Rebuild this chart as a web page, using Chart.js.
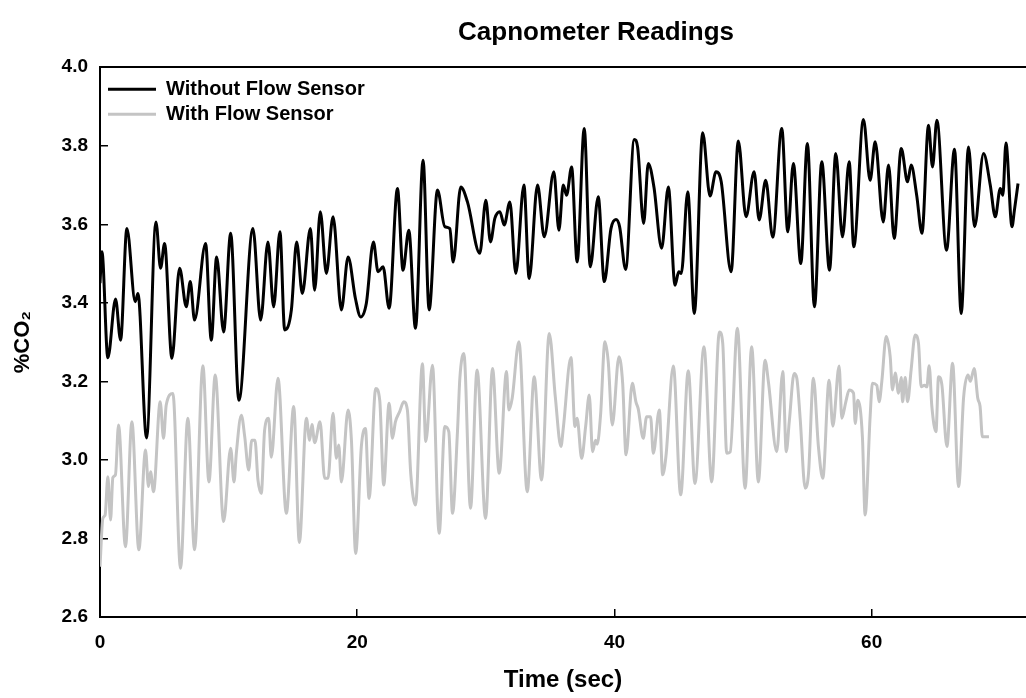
<!DOCTYPE html>
<html>
<head>
<meta charset="utf-8">
<title>Capnometer Readings</title>
<script src="https://cdn.jsdelivr.net/npm/chart.js@4.4.1/dist/chart.umd.min.js"></script>
<style>
  body { margin: 0; background: #fff; }
</style>
</head>
<body>
<canvas id="chart_dest" width="1026" height="698"></canvas>
<script>
// dataset - without flow sensor (black)
var timeWithout = [
  0.0, 0.15, 0.61, 1.21, 1.6, 2.09, 2.74, 2.95, 3.62, 4.35, 4.71, 5.02, 5.59, 6.19, 6.71, 7.02, 7.35, 8.21, 8.65, 9.07,
  9.61, 10.16, 10.8, 11.89, 12.49, 13.06, 13.5, 13.99, 14.36, 14.88, 15.29, 15.73, 16.36, 16.69, 17.13, 17.6, 18.12, 18.77, 19.29, 19.86,
  20.27, 20.71, 21.26, 21.62, 22.01, 22.48, 23.13, 23.56, 24.01, 24.53, 25.12, 25.59, 26.24, 26.81, 27.2, 27.46, 28.05, 28.57, 29.53, 30.0,
  30.36, 30.7, 31.09, 31.43, 31.87, 32.33, 32.96, 33.37, 34.02, 34.54, 35.29, 35.68, 36.02, 36.28, 36.67, 37.1, 37.65, 38.12, 38.74, 39.21,
  39.73, 40.12, 40.4, 40.87, 41.54, 41.8, 42.27, 42.63, 43.07, 43.67, 44.19, 44.71, 45.0, 45.2, 45.7, 46.21, 46.86, 47.43, 47.9, 48.3,
  49.07, 49.63, 50.23, 50.86, 51.25, 51.76, 52.31, 53.01, 53.48, 53.91, 54.49, 55.0, 55.55, 56.12, 56.72, 57.21, 57.73, 58.25, 58.61, 59.36,
  59.88, 60.27, 60.9, 61.31, 61.75, 62.3, 62.79, 63.07, 63.5, 63.91, 64.42, 64.73, 65.07, 65.82, 66.44, 66.96, 67.53, 68.0, 68.7, 69.22,
  69.61, 70.0, 70.2, 70.44, 70.91, 71.1, 71.38
];
var co2Without = [
  3.45, 3.53, 3.26, 3.41, 3.305, 3.589, 3.403, 3.424, 3.056, 3.606, 3.488, 3.551, 3.259, 3.488, 3.39, 3.454, 3.356, 3.551, 3.305, 3.517,
  3.326, 3.577, 3.152, 3.589, 3.356, 3.555, 3.39, 3.581, 3.331, 3.382, 3.555, 3.424, 3.589, 3.432, 3.632, 3.475, 3.619, 3.382, 3.517, 3.411,
  3.364, 3.399, 3.555, 3.479, 3.492, 3.386, 3.691, 3.483, 3.585, 3.335, 3.763, 3.382, 3.687, 3.594, 3.589, 3.504, 3.695, 3.657, 3.526, 3.661,
  3.555, 3.615, 3.632, 3.598, 3.657, 3.475, 3.7, 3.462, 3.7, 3.568, 3.734, 3.585, 3.7, 3.674, 3.746, 3.504, 3.844, 3.492, 3.67, 3.454,
  3.589, 3.612, 3.594, 3.485, 3.816, 3.797, 3.602, 3.755, 3.695, 3.539, 3.695, 3.445, 3.479, 3.475, 3.683, 3.373, 3.833, 3.672, 3.734, 3.709,
  3.479, 3.812, 3.619, 3.734, 3.611, 3.712, 3.567, 3.844, 3.581, 3.755, 3.5, 3.806, 3.39, 3.759, 3.483, 3.78, 3.568, 3.759, 3.543, 3.867,
  3.712, 3.81, 3.606, 3.751, 3.564, 3.793, 3.708, 3.751, 3.674, 3.577, 3.852, 3.746, 3.865, 3.534, 3.791, 3.373, 3.797, 3.594, 3.78, 3.7,
  3.619, 3.691, 3.674, 3.807, 3.594, 3.636, 3.704
];

// dataset - with flow sensor (grey)
var timeWith = [
  0.0, 0.22, 0.4, 0.61, 0.82, 1.0, 1.2, 1.44, 1.98, 2.48, 3.02, 3.54, 3.77, 3.93, 4.16, 4.68, 4.94, 5.15, 5.67, 6.26,
  6.83, 7.35, 8.0, 8.47, 8.96, 9.61, 10.16, 10.42, 10.6, 10.99, 11.25, 11.56, 11.8, 12.05, 12.28, 12.54, 12.8, 13.11, 13.32, 13.84,
  14.49, 15.06, 15.5, 16.05, 16.3, 16.48, 16.69, 17.11, 17.47, 17.73, 18.12, 18.38, 18.56, 18.77, 19.29, 19.55, 19.88, 20.32, 20.64, 20.92,
  21.44, 21.75, 22.06, 22.48, 22.74, 22.97, 23.3, 23.62, 23.9, 24.16, 24.53, 25.07, 25.33, 25.85, 26.37, 26.81, 27.12, 27.41, 27.8, 27.98,
  28.29, 28.81, 29.32, 29.98, 30.52, 31.04, 31.61, 31.79, 32.05, 32.57, 33.22, 33.76, 34.33, 34.93, 35.4, 35.84, 36.02, 36.62, 36.93, 37.1,
  37.45, 37.76, 38.04, 38.3, 38.53, 38.66, 38.92, 39.26, 39.52, 39.83, 40.35, 40.64, 40.9, 41.39, 41.67, 41.85, 42.24, 42.5, 42.81, 43.02,
  43.49, 43.75, 44.0, 44.58, 45.15, 45.74, 46.26, 46.96, 47.56, 48.16, 48.42, 48.73, 49.0, 49.56, 50.16, 50.67, 51.19, 51.71, 51.97, 52.62,
  53.09, 53.36, 53.6, 53.97, 54.18, 54.44, 54.83, 55.09, 55.47, 55.86, 56.2, 56.69, 56.98, 57.47, 57.68, 57.99, 58.25, 58.59, 58.72, 58.92,
  59.28, 59.49, 59.88, 60.06, 60.4, 60.58, 60.79, 61.13, 61.44, 61.62, 61.83, 62.09, 62.3, 62.4, 62.61, 62.79, 63.07, 63.38, 63.64, 63.85,
  64.11, 64.29, 64.47, 64.68, 65.0, 65.2, 65.46, 65.85, 66.29, 66.76, 67.15, 67.49, 67.67, 67.97, 68.25, 68.43, 68.61, 69.12
];
var co2With = [
  2.728, 2.851, 2.86, 2.957, 2.847, 2.955, 2.962, 3.089, 2.779, 3.097, 2.771, 3.025, 2.932, 2.97, 2.919, 3.148, 3.055, 3.14, 3.169, 2.724,
  3.106, 2.771, 3.24, 2.944, 3.216, 2.843, 3.03, 2.944, 3.017, 3.114, 3.06, 2.974, 3.05, 3.05, 2.949, 2.915, 3.076, 3.106, 3.007, 3.208,
  2.864, 3.136, 2.79, 3.106, 3.05, 3.09, 3.044, 3.097, 2.953, 2.953, 3.119, 3.004, 3.038, 2.944, 3.127, 3.05, 2.762, 3.034, 3.08, 2.902,
  3.182, 3.152, 2.936, 3.144, 3.055, 3.097, 3.123, 3.148, 3.127, 2.966, 2.885, 3.245, 3.047, 3.241, 2.813, 3.085, 3.072, 2.864, 3.076, 3.208,
  3.271, 2.877, 3.229, 2.851, 3.233, 2.966, 3.225, 3.127, 3.157, 3.301, 2.919, 3.212, 2.949, 3.322, 3.161, 3.034, 3.08, 3.261, 3.085, 3.106,
  3.004, 3.085, 3.165, 3.021, 3.05, 3.04, 3.114, 3.301, 3.249, 3.089, 3.263, 3.195, 3.013, 3.195, 3.148, 3.13, 3.055, 3.11, 3.11, 3.017,
  3.127, 2.962, 3.008, 3.239, 2.911, 3.227, 2.94, 3.288, 2.944, 3.326, 3.297, 3.017, 3.02, 3.335, 2.928, 3.288, 2.944, 3.254, 3.199, 3.021,
  3.225, 3.021, 3.1, 3.22, 3.208, 3.106, 2.928, 2.966, 3.208, 3.034, 2.953, 3.203, 3.086, 3.239, 3.106, 3.148, 3.178, 3.17, 3.093, 3.152,
  3.059, 2.86, 3.11, 3.195, 3.19, 3.148, 3.2, 3.314, 3.263, 3.178, 3.221, 3.17, 3.21, 3.148, 3.21, 3.148, 3.23, 3.318, 3.297, 3.186,
  3.19, 3.186, 3.24, 3.136, 3.072, 3.212, 3.191, 3.034, 3.246, 2.932, 3.16, 3.216, 3.2, 3.233, 3.157, 3.136, 3.059, 3.059
];

// axis ticks
var xTicks = [0, 20, 40, 60];
var yTicks = [2.6, 2.8, 3.0, 3.2, 3.4, 3.6, 3.8, 4.0];

function toPoints(xs, ys) {
  return xs.map(function (x, i) { return { x: x, y: ys[i] }; });
}

Chart.defaults.font.family = '"Liberation Sans", Arial, sans-serif';
Chart.defaults.color = '#000';

// legend inside the plot (chartArea legend gets top = 0), title a bit right of centre
var placeBoxes = {
  id: 'placeBoxes',
  afterLayout: function (chart) {
    var area = chart.chartArea;
    var lg = chart.legend;
    if (lg) {
      lg.left = area.left + 3;
      lg.top = area.top + 7;
      lg.right = lg.left + lg.width;
      lg.bottom = lg.top + lg.height;
    }
    var tb = chart.titleBlock;
    if (tb) {
      var cx = 596;
      var half = chart.width - cx;
      tb.left = cx - half;
      tb.right = cx + half;
      tb.width = 2 * half;
    }
  }
};

var data = {
  datasets: [
    {
      label: 'Without Flow Sensor',
      data: toPoints(timeWithout, co2Without),
      borderColor: '#000000',
      backgroundColor: '#000000',
      borderWidth: 3,
      pointRadius: 0,
      cubicInterpolationMode: 'monotone'
    },
    {
      label: 'With Flow Sensor',
      data: toPoints(timeWith, co2With),
      borderColor: '#c4c4c4',
      backgroundColor: '#c4c4c4',
      borderWidth: 3,
      pointRadius: 0,
      cubicInterpolationMode: 'monotone'
    }
  ]
};

var options = {
  responsive: false,
  animation: false,
  devicePixelRatio: 1,
  layout: { padding: 0 },
  plugins: {
    title: {
      display: true,
      text: 'Capnometer Readings',
      fullSize: false,
      color: '#000',
      font: { size: 26, weight: 'bold' },
      padding: { top: 17, bottom: 19 }
    },
    legend: {
      position: 'chartArea',
      align: 'start',
      labels: {
        boxWidth: 48,
        boxHeight: 3,
        padding: 5,
        color: '#000',
        font: { size: 20, weight: 'bold' },
        generateLabels: function (chart) {
          return chart.data.datasets.map(function (ds, i) {
            return {
              text: ds.label,
              fillStyle: ds.borderColor,
              strokeStyle: ds.borderColor,
              lineWidth: 0,
              datasetIndex: i
            };
          });
        }
      }
    },
    tooltip: { enabled: false }
  },
  scales: {
    x: {
      type: 'linear',
      min: 0,
      max: 72,
      afterBuildTicks: function (axis) {
        axis.ticks = xTicks.map(function (v) { return { value: v }; });
      },
      afterFit: function (axis) { axis.height = 81; },
      ticks: {
        padding: 22,
        font: { size: 19, weight: 'bold' },
        color: '#000'
      },
      grid: { drawOnChartArea: false, drawTicks: true, tickLength: -8, color: '#000', lineWidth: 1.5 },
      border: { display: true, color: '#000', width: 2 },
      title: {
        display: true,
        text: 'Time (sec)',
        color: '#000',
        font: { size: 24, weight: 'bold' },
        padding: { top: 0, bottom: 3 }
      }
    },
    xTop: {
      type: 'linear',
      position: 'top',
      min: 0,
      max: 72,
      afterFit: function (axis) { axis.height = 0; },
      ticks: { display: false },
      grid: { display: false, drawTicks: false },
      border: { display: true, color: '#000', width: 2 }
    },
    y: {
      min: 2.6,
      max: 4.0,
      afterBuildTicks: function (axis) {
        axis.ticks = yTicks.map(function (v) { return { value: v }; });
      },
      afterFit: function (axis) { axis.width = 100; },
      ticks: {
        padding: 20,
        font: { size: 19, weight: 'bold' },
        color: '#000',
        callback: function (v) { return Number(v).toFixed(1); }
      },
      grid: { drawOnChartArea: false, drawTicks: true, tickLength: -8, color: '#000', lineWidth: 1.5 },
      border: { display: true, color: '#000', width: 2 },
      title: {
        display: true,
        text: '%CO\u2082',
        color: '#000',
        font: { size: 22, weight: 'bold' },
        padding: { top: 10, bottom: 0 }
      }
    }
  }
};

// settings about canvas
var ctx = document.getElementById('chart_dest');

var capnoChart = new Chart(ctx, {
  type: 'line',
  data: data,
  options: options,
  plugins: [placeBoxes]
});
</script>
</body>
</html>
